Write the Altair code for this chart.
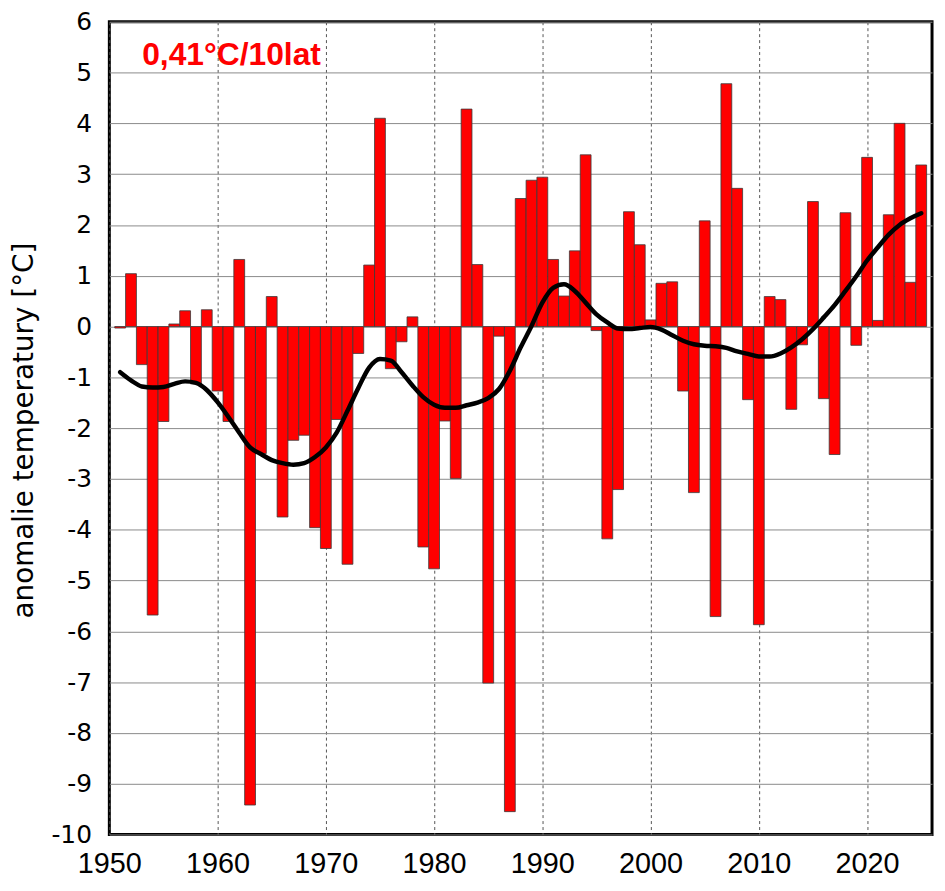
import altair as alt
import pandas as pd

years = list(range(1951, 2026))

anomaly = [
    -0.03, 1.04, -0.75, -5.68, -1.87, 0.05, 0.31, -1.13, 0.33, -1.27,   # 1951-1960
    -1.87, 1.32, -9.42, -2.50, 0.59, -3.75, -2.24, -2.14, -3.96, -4.37,  # 1961-1970
    -1.83, -4.68, -0.53, 1.21, 4.10, -0.83, -0.30, 0.19, -4.34, -4.77,   # 1971-1980
    -1.86, -2.99, 4.28, 1.22, -7.02, -0.19, -9.55, 2.52, 2.88, 2.94,     # 1981-1990
    1.32, 0.60, 1.49, 3.38, -0.08, -4.18, -3.21, 2.26, 1.61, 0.13,       # 1991-2000
    0.85, 0.88, -1.27, -3.27, 2.08, -5.71, 4.78, 2.72, -1.44, -5.87,     # 2001-2010
    0.59, 0.53, -1.63, -0.36, 2.46, -1.42, -2.52, 2.24, -0.37, 3.33,     # 2011-2020
    0.12, 2.20, 4.00, 0.87, 3.18,                                        # 2021-2025
]

smooth = [
    -0.90, -1.06, -1.18, -1.20, -1.19, -1.13, -1.08, -1.11, -1.25, -1.49,
    -1.78, -2.09, -2.38, -2.51, -2.63, -2.69, -2.72, -2.69, -2.57, -2.38,
    -2.09, -1.66, -1.21, -0.81, -0.64, -0.67, -0.90, -1.16, -1.39, -1.54,
    -1.60, -1.60, -1.55, -1.50, -1.41, -1.23, -0.87, -0.41, 0.01, 0.47,
    0.76, 0.83, 0.70, 0.47, 0.24, 0.08, -0.04, -0.05, -0.03, -0.01,
    -0.06, -0.17, -0.28, -0.35, -0.38, -0.39, -0.42, -0.49, -0.54, -0.59,
    -0.59, -0.53, -0.41, -0.25, -0.05, 0.18, 0.42, 0.70, 0.99, 1.30,
    1.56, 1.81, 2.00, 2.13, 2.23,
]

x_ticks = [1950, 1960, 1970, 1980, 1990, 2000, 2010, 2020]
y_ticks = list(range(-10, 7))
trend_label = ["0,41°C/10lat"]
y_title = "anomalie temperatury [°C]"

df = pd.DataFrame({"year": years, "anomaly": anomaly, "smooth": smooth})

xscale = alt.Scale(domain=[1950, 2026], nice=False, zero=False)
yscale = alt.Scale(domain=[-10, 6], nice=False, zero=False)

xaxis = alt.Axis(
    values=x_ticks, title=None, grid=True,
    labelExpr="datum.value + ''",
    gridDash=[3, 3], gridColor="#555555", gridWidth=1,
    ticks=False, domain=False, labelFlush=False, labelOverlap=False,
    labelFont="Liberation Sans", labelFontSize=29, labelPadding=15,
    labelColor="black",
)
yaxis = alt.Axis(
    values=y_ticks, title=y_title, grid=True,
    labelExpr="datum.value + ''",
    gridColor="#8a8a8a", gridWidth=1,
    ticks=False, domain=False, labelFlush=False, labelOverlap=False,
    labelFont="DejaVu Sans", labelFontSize=25, labelPadding=18,
    labelColor="black",
    titleFont="DejaVu Sans", titleFontSize=28, titleFontWeight="normal",
    titleColor="black", titleAngle=270, titleBaseline="middle",
    titleAlign="center", titleX=-85, titleY=411,
)

bars = (
    alt.Chart(df)
    .transform_calculate(x0="datum.year - 0.5", x1="datum.year + 0.5")
    .mark_bar(color="#FF0000", stroke="#3a3a3a", strokeWidth=0.8)
    .encode(
        x=alt.X("x0:Q", scale=xscale, axis=xaxis),
        x2="x1:Q",
        y=alt.Y("anomaly:Q", scale=yscale, axis=yaxis),
        y2=alt.datum(0),
    )
)

line = (
    alt.Chart(df)
    .mark_line(color="black", strokeWidth=4.5, interpolate="monotone",
               strokeCap="round", strokeJoin="round")
    .encode(
        x=alt.X("year:Q", scale=xscale, axis=xaxis),
        y=alt.Y("smooth:Q", scale=yscale, axis=yaxis),
    )
)

label = (
    alt.Chart(pd.DataFrame({"label": trend_label}))
    .mark_text(color="#FF0000", font="Liberation Sans", fontWeight="bold",
               fontSize=32, align="left", baseline="alphabetic")
    .encode(text="label:N", x=alt.value(33), y=alt.value(44))
)

chart = (
    alt.layer(bars, line, label)
    .properties(
        width=828, height=818, autosize="none",
        padding={"left": 102, "top": 11, "right": 5, "bottom": 46},
        background="white",
    )
    .configure_view(stroke="black", strokeWidth=3)
)

chart.save("out.html", embed_options={"renderer": "svg", "actions": False})
